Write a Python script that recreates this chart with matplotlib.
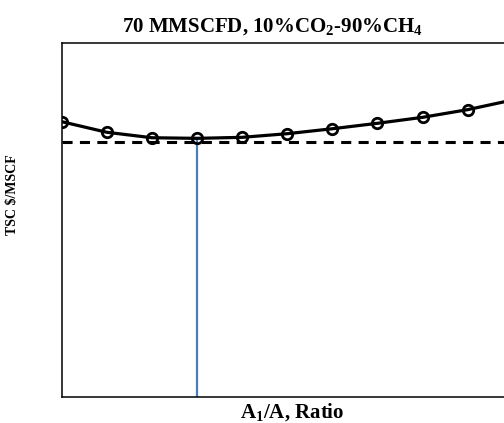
import matplotlib.pyplot as plt
import numpy as np

plt.rcParams['font.family'] = 'Liberation Serif'
plt.rcParams['mathtext.fontset'] = 'custom'
plt.rcParams['mathtext.rm'] = 'Liberation Serif'
plt.rcParams['mathtext.bf'] = 'Liberation Serif:bold'

# data (y in arbitrary TSC units)
ratio = np.arange(0, 11)
tsc = [0.2721, 0.2616, 0.2562, 0.2556, 0.2566, 0.2602, 0.2651, 0.2705, 0.2764, 0.2840, 0.2936]
tsc_min = 0.2523
opt_ratio = 3

fig = plt.figure(figsize=(5.04, 4.23), dpi=100)
ax = fig.add_axes([61.7 / 504, 26.5 / 423, 451 / 504, 353.5 / 423])

ax.plot(ratio, tsc, color='black', lw=2.3, marker='o', markersize=7.5,
        markerfacecolor='none', markeredgewidth=2, zorder=3)
ax.axhline(tsc_min, color='black', lw=2.2, dashes=(3.3, 2.4), zorder=2)
ax.plot([opt_ratio, opt_ratio], [0, tsc[opt_ratio]], color='#4a7ebb', lw=1.6, zorder=1)

ax.set_xlim(0, 10)
ax.set_ylim(0, 0.35)
ax.set_xticks([])
ax.set_yticks([])
for s in ax.spines.values():
    s.set_linewidth(1.1)

ax.text((272 - 61.7) / 451, (396.5 - 27) / 353.5,
        r'70 MMSCFD, 10%CO$_\mathbf{2}$-90%CH$_\mathbf{4}$',
        transform=ax.transAxes, ha='center', va='center',
        fontsize=15, fontweight='bold')
ax.set_xlabel(r'A$_\mathbf{1}$/A, Ratio', fontsize=15, fontweight='bold')
ax.set_ylabel('TSC $/MSCF', fontsize=10, fontweight='bold')
ax.xaxis.set_label_coords((292 - 61.7) / 451, -0.016)
ax.yaxis.set_label_coords(-0.095, (396.5 - 195) / 353.5)

fig.savefig('out.png', dpi=100)
